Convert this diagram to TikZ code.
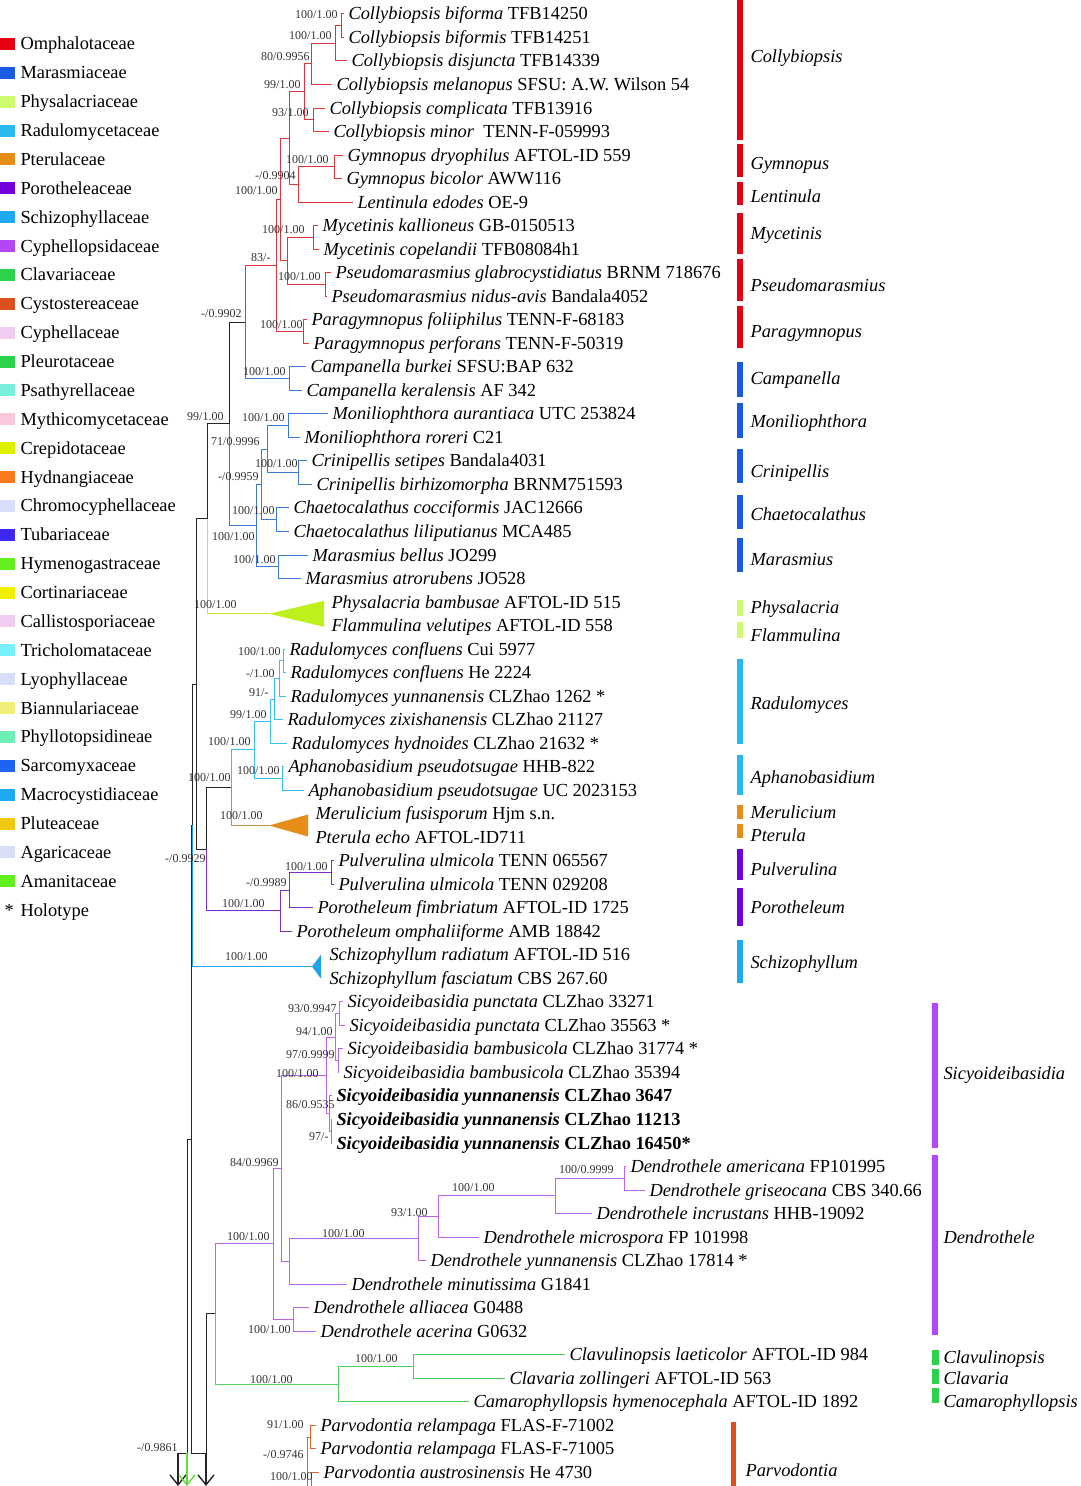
\documentclass[tikz,border=0pt]{standalone}
\usepackage{fontspec}
\setmainfont{Liberation Serif}
\usetikzlibrary{arrows.meta}
%family colours (legend and bars)
\definecolor{cOmph}{RGB}{230,0,18}
\definecolor{cMara}{RGB}{25,90,225}
\definecolor{cPhys}{RGB}{205,250,110}
\definecolor{cRadu}{RGB}{40,185,240}
\definecolor{cPter}{RGB}{230,140,25}
\definecolor{cPoro}{RGB}{115,0,220}
\definecolor{cSchi}{RGB}{30,170,240}
\definecolor{cCyph}{RGB}{180,70,245}
\definecolor{cClav}{RGB}{45,210,75}
\definecolor{cCyst}{RGB}{220,80,30}
\definecolor{cCyphe}{RGB}{240,205,240}
\definecolor{cPleu}{RGB}{45,210,75}
\definecolor{cPsat}{RGB}{120,240,220}
\definecolor{cMyth}{RGB}{250,200,220}
\definecolor{cCrep}{RGB}{220,240,0}
\definecolor{cHydn}{RGB}{250,120,30}
\definecolor{cChro}{RGB}{215,222,250}
\definecolor{cTuba}{RGB}{60,40,240}
\definecolor{cHyme}{RGB}{100,240,30}
\definecolor{cCort}{RGB}{240,240,0}
\definecolor{cCall}{RGB}{240,205,240}
\definecolor{cTric}{RGB}{120,240,250}
\definecolor{cLyop}{RGB}{215,222,250}
\definecolor{cBian}{RGB}{240,240,120}
\definecolor{cPhyl}{RGB}{110,240,180}
\definecolor{cSarc}{RGB}{30,100,240}
\definecolor{cMacr}{RGB}{30,170,240}
\definecolor{cPlut}{RGB}{240,200,20}
\definecolor{cAgar}{RGB}{215,222,245}
\definecolor{cAman}{RGB}{100,240,30}
%branch colours
\definecolor{lOmph}{RGB}{225,50,60}
\definecolor{lMara}{RGB}{60,120,215}
\definecolor{lPhys}{RGB}{190,240,30}
\definecolor{lRadu}{RGB}{60,190,235}
\definecolor{lPter}{RGB}{195,140,70}
\definecolor{lPoro}{RGB}{125,45,205}
\definecolor{lSchi}{RGB}{30,160,235}
\definecolor{lCyph}{RGB}{190,100,235}
\definecolor{lClav}{RGB}{80,210,90}
\definecolor{lCyst}{RGB}{215,100,40}
\definecolor{lHyme}{RGB}{100,220,60}
\tikzset{every picture/.style={line width=0.5pt},
  every node/.style={font=\fontsize{9.2}{11}\selectfont},
  leaf/.style={anchor=west,inner xsep=2pt,inner ysep=0pt,text height=8pt,text depth=2pt},
  bs/.style={anchor=east,inner sep=0pt,text=black!80,font=\fontsize{6}{7}\selectfont},
  genus/.style={anchor=west,inner sep=0pt,text height=8pt,text depth=2pt,font=\fontsize{9.2}{11}\selectfont\itshape},
  legtext/.style={anchor=west,inner sep=0pt,text height=8pt,text depth=2pt},
  trunk/.style={draw=black!85},
  omph/.style={draw=lOmph},
  mara/.style={draw=lMara},
  phys/.style={draw=lPhys},
  radu/.style={draw=lRadu},
  pter/.style={draw=lPter},
  poro/.style={draw=lPoro},
  schi/.style={draw=lSchi},
  cyph/.style={draw=lCyph},
  clav/.style={draw=lClav},
  cyst/.style={draw=lCyst},
  cont/.style={line width=0.7pt,-{Straight Barb[length=5pt,width=8pt]}}
}

\begin{document}
\begin{tikzpicture}[x=0.5pt,y=0.5pt,yscale=-1,xscale=1]
\useasboundingbox (0,0) rectangle (1080,1486);

%Legend
\fill[cOmph] (0,38) rectangle (15,50); \node[legtext] (lg1) at (20,44) {Omphalotaceae};
\fill[cMara] (0,66.9) rectangle (15,78.9); \node[legtext] (lg2) at (20,72.9) {Marasmiaceae};
\fill[cPhys] (0,95.7) rectangle (15,107.7); \node[legtext] (lg3) at (20,101.7) {Physalacriaceae};
\fill[cRadu] (0,124.6) rectangle (15,136.6); \node[legtext] (lg4) at (20,130.6) {Radulomycetaceae};
\fill[cPter] (0,153.5) rectangle (15,165.5); \node[legtext] (lg5) at (20,159.5) {Pterulaceae};
\fill[cPoro] (0,182.4) rectangle (15,194.4); \node[legtext] (lg6) at (20,188.4) {Porotheleaceae};
\fill[cSchi] (0,211.2) rectangle (15,223.2); \node[legtext] (lg7) at (20,217.2) {Schizophyllaceae};
\fill[cCyph] (0,240.1) rectangle (15,252.1); \node[legtext] (lg8) at (20,246.1) {Cyphellopsidaceae};
\fill[cClav] (0,269) rectangle (15,281); \node[legtext] (lg9) at (20,275) {Clavariaceae};
\fill[cCyst] (0,297.8) rectangle (15,309.8); \node[legtext] (lg10) at (20,303.8) {Cystostereaceae};
\fill[cCyphe] (0,326.7) rectangle (15,338.7); \node[legtext] (lg11) at (20,332.7) {Cyphellaceae};
\fill[cPleu] (0,355.6) rectangle (15,367.6); \node[legtext] (lg12) at (20,361.6) {Pleurotaceae};
\fill[cPsat] (0,384.4) rectangle (15,396.4); \node[legtext] (lg13) at (20,390.4) {Psathyrellaceae};
\fill[cMyth] (0,413.3) rectangle (15,425.3); \node[legtext] (lg14) at (20,419.3) {Mythicomycetaceae};
\fill[cCrep] (0,442.2) rectangle (15,454.2); \node[legtext] (lg15) at (20,448.2) {Crepidotaceae};
\fill[cHydn] (0,471.1) rectangle (15,483.1); \node[legtext] (lg16) at (20,477.1) {Hydnangiaceae};
\fill[cChro] (0,499.9) rectangle (15,511.9); \node[legtext] (lg17) at (20,505.9) {Chromocyphellaceae};
\fill[cTuba] (0,528.8) rectangle (15,540.8); \node[legtext] (lg18) at (20,534.8) {Tubariaceae};
\fill[cHyme] (0,557.7) rectangle (15,569.7); \node[legtext] (lg19) at (20,563.7) {Hymenogastraceae};
\fill[cCort] (0,586.5) rectangle (15,598.5); \node[legtext] (lg20) at (20,592.5) {Cortinariaceae};
\fill[cCall] (0,615.4) rectangle (15,627.4); \node[legtext] (lg21) at (20,621.4) {Callistosporiaceae};
\fill[cTric] (0,644.3) rectangle (15,656.3); \node[legtext] (lg22) at (20,650.3) {Tricholomataceae};
\fill[cLyop] (0,673.1) rectangle (15,685.1); \node[legtext] (lg23) at (20,679.1) {Lyophyllaceae};
\fill[cBian] (0,702) rectangle (15,714); \node[legtext] (lg24) at (20,708) {Biannulariaceae};
\fill[cPhyl] (0,730.9) rectangle (15,742.9); \node[legtext] (lg25) at (20,736.9) {Phyllotopsidineae};
\fill[cSarc] (0,759.8) rectangle (15,771.8); \node[legtext] (lg26) at (20,765.8) {Sarcomyxaceae};
\fill[cMacr] (0,788.6) rectangle (15,800.6); \node[legtext] (lg27) at (20,794.6) {Macrocystidiaceae};
\fill[cPlut] (0,817.5) rectangle (15,829.5); \node[legtext] (lg28) at (20,823.5) {Pluteaceae};
\fill[cAgar] (0,846.4) rectangle (15,858.4); \node[legtext] (lg29) at (20,852.4) {Agaricaceae};
\fill[cAman] (0,875.2) rectangle (15,887.2); \node[legtext] (lg30) at (20,881.2) {Amanitaceae};
\node[legtext] (lgstar) at (4,910.1) {*}; \node[legtext] (lg31) at (20,910.1) {Holotype};

%Tip labels
\node[leaf] (t1) at (344,14) {\textit{Collybiopsis biforma} TFB14250};
\node[leaf] (t2) at (344,37.5) {\textit{Collybiopsis biformis} TFB14251};
\node[leaf] (t3) at (347,61) {\textit{Collybiopsis disjuncta} TFB14339};
\node[leaf] (t4) at (332,84.6) {\textit{Collybiopsis melanopus} SFSU: A.W. Wilson 54};
\node[leaf] (t5) at (325,108.1) {\textit{Collybiopsis complicata} TFB13916};
\node[leaf] (t6) at (329,131.6) {\textit{Collybiopsis minor}\ \ TENN-F-059993};
\node[leaf] (t7) at (343,155.1) {\textit{Gymnopus dryophilus} AFTOL-ID 559};
\node[leaf] (t8) at (342,178.6) {\textit{Gymnopus bicolor} AWW116};
\node[leaf] (t9) at (353,202.2) {\textit{Lentinula edodes} OE-9};
\node[leaf] (t10) at (318,225.7) {\textit{Mycetinis kallioneus} GB-0150513};
\node[leaf] (t11) at (319,249.2) {\textit{Mycetinis copelandii} TFB08084h1};
\node[leaf] (t12) at (331,272.7) {\textit{Pseudomarasmius glabrocystidiatus} BRNM 718676};
\node[leaf] (t13) at (327,296.2) {\textit{Pseudomarasmius nidus-avis} Bandala4052};
\node[leaf] (t14) at (307,319.8) {\textit{Paragymnopus foliiphilus} TENN-F-68183};
\node[leaf] (t15) at (309,343.3) {\textit{Paragymnopus perforans} TENN-F-50319};
\node[leaf] (t16) at (306,366.8) {\textit{Campanella burkei} SFSU:BAP 632};
\node[leaf] (t17) at (302,390.3) {\textit{Campanella keralensis} AF 342};
\node[leaf] (t18) at (328,413.8) {\textit{Moniliophthora aurantiaca} UTC 253824};
\node[leaf] (t19) at (300,437.4) {\textit{Moniliophthora roreri} C21};
\node[leaf] (t20) at (307,460.9) {\textit{Crinipellis setipes} Bandala4031};
\node[leaf] (t21) at (312,484.4) {\textit{Crinipellis birhizomorpha} BRNM751593};
\node[leaf] (t22) at (289,507.9) {\textit{Chaetocalathus cocciformis} JAC12666};
\node[leaf] (t23) at (289,531.4) {\textit{Chaetocalathus liliputianus} MCA485};
\node[leaf] (t24) at (308,555) {\textit{Marasmius bellus} JO299};
\node[leaf] (t25) at (301,578.5) {\textit{Marasmius atrorubens} JO528};
\node[leaf] (t26) at (327,602) {\textit{Physalacria bambusae} AFTOL-ID 515};
\node[leaf] (t27) at (327,625.5) {\textit{Flammulina velutipes} AFTOL-ID 558};
\node[leaf] (t28) at (285,649) {\textit{Radulomyces confluens} Cui 5977};
\node[leaf] (t29) at (286,672.6) {\textit{Radulomyces confluens} He 2224};
\node[leaf] (t30) at (286,696.1) {\textit{Radulomyces yunnanensis} CLZhao 1262 *};
\node[leaf] (t31) at (283,719.6) {\textit{Radulomyces zixishanensis} CLZhao 21127};
\node[leaf] (t32) at (287,743.1) {\textit{Radulomyces hydnoides} CLZhao 21632 *};
\node[leaf] (t33) at (284,766.6) {\textit{Aphanobasidium pseudotsugae} HHB-822};
\node[leaf] (t34) at (304,790.2) {\textit{Aphanobasidium pseudotsugae} UC 2023153};
\node[leaf] (t35) at (311,813.7) {\textit{Merulicium fusisporum} Hjm s.n.};
\node[leaf] (t36) at (311,837.2) {\textit{Pterula echo} AFTOL-ID711};
\node[leaf] (t37) at (334,860.7) {\textit{Pulverulina ulmicola} TENN 065567};
\node[leaf] (t38) at (334,884.2) {\textit{Pulverulina ulmicola} TENN 029208};
\node[leaf] (t39) at (313,907.8) {\textit{Porotheleum fimbriatum} AFTOL-ID 1725};
\node[leaf] (t40) at (292,931.3) {\textit{Porotheleum omphaliiforme} AMB 18842};
\node[leaf] (t41) at (325,954.8) {\textit{Schizophyllum radiatum} AFTOL-ID 516};
\node[leaf] (t42) at (325,978.3) {\textit{Schizophyllum fasciatum} CBS 267.60};
\node[leaf] (t43) at (343,1001.8) {\textit{Sicyoideibasidia punctata} CLZhao 33271};
\node[leaf] (t44) at (345,1025.4) {\textit{Sicyoideibasidia punctata} CLZhao 35563 *};
\node[leaf] (t45) at (343,1048.9) {\textit{Sicyoideibasidia bambusicola} CLZhao 31774 *};
\node[leaf] (t46) at (339,1072.4) {\textit{Sicyoideibasidia bambusicola} CLZhao 35394};
\node[leaf] (t47) at (332,1095.9) {\bfseries\textit{Sicyoideibasidia yunnanensis} CLZhao 3647};
\node[leaf] (t48) at (332,1119.4) {\bfseries\textit{Sicyoideibasidia yunnanensis} CLZhao 11213};
\node[leaf] (t49) at (332,1143) {\bfseries\textit{Sicyoideibasidia yunnanensis} CLZhao 16450*};
\node[leaf] (t50) at (626,1166.5) {\textit{Dendrothele americana} FP101995};
\node[leaf] (t51) at (645,1190) {\textit{Dendrothele griseocana} CBS 340.66};
\node[leaf] (t52) at (592,1213.5) {\textit{Dendrothele incrustans} HHB-19092};
\node[leaf] (t53) at (479,1237) {\textit{Dendrothele microspora} FP 101998};
\node[leaf] (t54) at (426,1260.6) {\textit{Dendrothele yunnanensis} CLZhao 17814 *};
\node[leaf] (t55) at (347,1284.1) {\textit{Dendrothele minutissima} G1841};
\node[leaf] (t56) at (309,1307.6) {\textit{Dendrothele alliacea} G0488};
\node[leaf] (t57) at (316,1331.1) {\textit{Dendrothele acerina} G0632};
\node[leaf] (t58) at (565,1354.6) {\textit{Clavulinopsis laeticolor} AFTOL-ID 984};
\node[leaf] (t59) at (505,1378.2) {\textit{Clavaria zollingeri} AFTOL-ID 563};
\node[leaf] (t60) at (469,1401.7) {\textit{Camarophyllopsis hymenocephala} AFTOL-ID 1892};
\node[leaf] (t61) at (316,1425.2) {\textit{Parvodontia relampaga} FLAS-F-71002};
\node[leaf] (t62) at (316,1448.7) {\textit{Parvodontia relampaga} FLAS-F-71005};
\node[leaf] (t63) at (319,1472.2) {\textit{Parvodontia austrosinensis} He 4730};

%Internal nodes
\coordinate (n12) at (341,25.8);
\coordinate (n123) at (335,43.4);
\coordinate (n1234) at (311,64);
\coordinate (n56) at (313,119.9);
\coordinate (nColl) at (304,92);
\coordinate (nGy) at (334,166.9);
\coordinate (nGL) at (298,184.5);
\coordinate (nCGL) at (289,138.3);
\coordinate (nMyc) at (313,237.5);
\coordinate (nPs) at (325,284.5);
\coordinate (nMP) at (287,261);
\coordinate (nX) at (280,199.6);
\coordinate (nPara) at (303,331.6);
\coordinate (nOmph) at (276,265.6);
\coordinate (nCamp) at (289,378.6);
\coordinate (nOC) at (245,322.1);
\coordinate (nMon) at (288,425.6);
\coordinate (nCri) at (298,472.7);
\coordinate (n71) at (267,449.2);
\coordinate (nCha) at (276,519.7);
\coordinate (n59) at (261,484.5);
\coordinate (nMar) at (278,566.8);
\coordinate (nMara) at (256,525.6);
\coordinate (n99) at (229,423.9);
\coordinate (physx) at (269,613.8);
\coordinate (nA) at (207,518.9);
\coordinate (n2829) at (283,660.8);
\coordinate (nR1) at (279,678.5);
\coordinate (nR91) at (274,699);
\coordinate (nR99) at (270,721.1);
\coordinate (nAph) at (282,778.4);
\coordinate (nRA) at (254,749.8);
\coordinate (pterx) at (269,825.5);
\coordinate (nRP) at (231,787.6);
\coordinate (nPul) at (331,872.5);
\coordinate (nP2) at (289,890.2);
\coordinate (nPoro) at (280,910.7);
\coordinate (nB) at (206,849.2);
\coordinate (nC) at (196,684);
\coordinate (schix) at (312,966.6);
\coordinate (nD) at (192,825.3);
\coordinate (nSp) at (339,1013.6);
\coordinate (nSb) at (338,1060.7);
\coordinate (nS94) at (335,1037.1);
\coordinate (nS97) at (331,1131.2);
\coordinate (nS86) at (329,1113.6);
\coordinate (nS100) at (326,1075.3);
\coordinate (nDag) at (624,1178.3);
\coordinate (nDagi) at (555,1195.9);
\coordinate (nD93) at (438,1216.5);
\coordinate (nDy) at (418,1238.5);
\coordinate (nDm) at (289,1261.3);
\coordinate (n84) at (281,1168.3);
\coordinate (nDal) at (293,1319.4);
\coordinate (nD100) at (273,1243.8);
\coordinate (nCl2) at (413,1366.4);
\coordinate (nCl) at (338,1384);
\coordinate (nCC) at (215,1313.9);
\coordinate (nG) at (206,1453);
\coordinate (nF) at (191,1139.2);
\coordinate (nH) at (187,1453);
\coordinate (nI) at (178,1453);
\coordinate (aI) at (178,1486);
\coordinate (aH) at (187,1486);
\coordinate (aG) at (206,1486);
\coordinate (nPr) at (310,1437);
\coordinate (nPv) at (307,1463);
\coordinate (nPa) at (311,1486);

%Omphalotaceae
\draw[omph] (n12) |- (t1.west) (n12) |- (t2.west);
\draw[omph] (n123) |- (n12) (n123) |- (t3.west);
\draw[omph] (n1234) |- (n123) (n1234) |- (t4.west);
\draw[omph] (n56) |- (t5.west) (n56) |- (t6.west);
\draw[omph] (nColl) |- (n1234) (nColl) |- (n56);
\draw[omph] (nGy) |- (t7.west) (nGy) |- (t8.west);
\draw[omph] (nGL) |- (nGy) (nGL) |- (t9.west);
\draw[omph] (nCGL) |- (nColl) (nCGL) |- (nGL);
\draw[omph] (nMyc) |- (t10.west) (nMyc) |- (t11.west);
\draw[omph] (nPs) |- (t12.west) (nPs) |- (t13.west);
\draw[omph] (nMP) |- (nMyc) (nMP) |- (nPs);
\draw[omph] (nX) |- (nCGL) (nX) |- (nMP);
\draw[omph] (nPara) |- (t14.west) (nPara) |- (t15.west);
\draw[omph] (nOmph) |- (nX) (nOmph) |- (nPara);
\draw[omph] (nOC) |- (nOmph);
%Marasmiaceae
\draw[mara] (nCamp) |- (t16.west) (nCamp) |- (t17.west);
\draw[mara] (nOC) |- (nCamp);
\draw[mara] (nMon) |- (t18.west) (nMon) |- (t19.west);
\draw[mara] (nCri) |- (t20.west) (nCri) |- (t21.west);
\draw[mara] (n71) |- (nMon) (n71) |- (nCri);
\draw[mara] (nCha) |- (t22.west) (nCha) |- (t23.west);
\draw[mara] (n59) |- (n71) (n59) |- (nCha);
\draw[mara] (nMar) |- (t24.west) (nMar) |- (t25.west);
\draw[mara] (nMara) |- (n59) (nMara) |- (nMar);
\draw[mara] (n99) |- (nMara);
\draw[trunk] (n99) |- (nOC);
\draw[trunk] (nA) |- (n99);
%Physalacriaceae
\draw[phys] (nA) |- (physx);
\fill[lPhys] (physx) -- ++(55,-13) -- ++(0,26) -- cycle;
%Radulomycetaceae and Pterulaceae
\draw[radu] (n2829) |- (t28.west) (n2829) |- (t29.west);
\draw[radu] (nR1) |- (n2829) (nR1) |- (t30.west);
\draw[radu] (nR91) |- (nR1) (nR91) |- (t31.west);
\draw[radu] (nR99) |- (nR91) (nR99) |- (t32.west);
\draw[radu] (nAph) |- (t33.west) (nAph) |- (t34.west);
\draw[radu] (nRA) |- (nR99) (nRA) |- (nAph);
\draw[radu] (nRP) |- (nRA);
\draw[pter] (nRP) |- (pterx);
\fill[cPter] (pterx) -- ++(39,-11) -- ++(0,22) -- cycle;
%Porotheleaceae
\draw[poro] (nPul) |- (t37.west) (nPul) |- (t38.west);
\draw[poro] (nP2) |- (nPul) (nP2) |- (t39.west);
\draw[poro] (nPoro) |- (nP2) (nPoro) |- (t40.west);
\draw[poro] (nB) |- (nPoro);
\draw[trunk] (nB) |- (nRP);
\draw[trunk] (nC) |- (nA) (nC) |- (nB);
%trunk
\draw[trunk] (nF) |- (nD) (nF) |- (nG);
\draw[trunk] (nD) |- (nC);
\draw[trunk] (nH) |- (nF);
\draw[trunk] (nI) |- (nH);
\draw[trunk] (nG) |- (nCC);
\draw[trunk,cont] (nI) -- (aI);
\draw[trunk,cont] (nG) -- (aG);
\draw[draw=lHyme,cont] (nH) -- (aH);
%Schizophyllaceae
\draw[schi] (nD) |- (schix);
\fill[lSchi] (schix) -- ++(9,-12) -- ++(0,24) -- cycle;
%Cyphellopsidaceae
\draw[cyph] (nSp) |- (t43.west) (nSp) |- (t44.west);
\draw[cyph] (nSb) |- (t45.west) (nSb) |- (t46.west);
\draw[cyph] (nS94) |- (nSp) (nS94) |- (nSb);
\draw[cyph] (nS97) |- (t48.west) (nS97) |- (t49.west);
\draw[cyph] (nS86) |- (t47.west) (nS86) |- (nS97);
\draw[cyph] (nS100) |- (nS94) (nS100) |- (nS86);
\draw[cyph] (nDag) |- (t50.west) (nDag) |- (t51.west);
\draw[cyph] (nDagi) |- (nDag) (nDagi) |- (t52.west);
\draw[cyph] (nD93) |- (nDagi) (nD93) |- (t53.west);
\draw[cyph] (nDy) |- (nD93) (nDy) |- (t54.west);
\draw[cyph] (nDm) |- (nDy) (nDm) |- (t55.west);
\draw[cyph] (n84) |- (nS100) (n84) |- (nDm);
\draw[cyph] (nDal) |- (t56.west) (nDal) |- (t57.west);
\draw[cyph] (nD100) |- (n84) (nD100) |- (nDal);
\draw[cyph] (nCC) |- (nD100);
%Clavariaceae
\draw[clav] (nCl2) |- (t58.west) (nCl2) |- (t59.west);
\draw[clav] (nCl) |- (nCl2) (nCl) |- (t60.west);
\draw[clav] (nCC) |- (nCl);
%Cystostereaceae
\draw[cyst] (nPr) |- (t61.west) (nPr) |- (t62.west);
\draw[cyst] (nPv) |- (nPr) (nPv) |- (nPa);
\draw[cyst] (nPa) |- (t63.west);

%Support values
\node[bs] (s1) at (338,15) {100/1.00};
\node[bs] (s2) at (332,36) {100/1.00};
\node[bs] (s3) at (310,57) {80/0.9956};
\node[bs] (s4) at (301,85) {99/1.00};
\node[bs] (s5) at (309,113) {93/1.00};
\node[bs] (s6) at (329,160) {100/1.00};
\node[bs] (s7) at (296,176) {-/0.9904};
\node[bs] (s8) at (278,191) {100/1.00};
\node[bs] (s9) at (305,230) {100/1.00};
\node[bs] (s10) at (271,258) {83/-};
\node[bs] (s11) at (321,277) {100/1.00};
\node[bs] (s12) at (242,314) {-/0.9902};
\node[bs] (s13) at (303,325) {100/1.00};
\node[bs] (s14) at (286,372) {100/1.00};
\node[bs] (s15) at (224,417) {99/1.00};
\node[bs] (s16) at (285,418) {100/1.00};
\node[bs] (s17) at (260,442) {71/0.9996};
\node[bs] (s18) at (298,464) {100/1.00};
\node[bs] (s19) at (259,477) {-/0.9959};
\node[bs] (s20) at (275,511) {100/1.00};
\node[bs] (s21) at (255,537) {100/1.00};
\node[bs] (s22) at (276,560) {100/1.00};
\node[bs] (s23) at (237,605) {100/1.00};
\node[bs] (s24) at (281,652) {100/1.00};
\node[bs] (s25) at (275,674) {-/1.00};
\node[bs] (s26) at (269,693) {91/-};
\node[bs] (s27) at (267,715) {99/1.00};
\node[bs] (s28) at (251,742) {100/1.00};
\node[bs] (s29) at (280,771) {100/1.00};
\node[bs] (s30) at (231,778) {100/1.00};
\node[bs] (s31) at (263,816) {100/1.00};
\node[bs] (s32) at (206,859) {-/0.9929};
\node[bs] (s33) at (328,867) {100/1.00};
\node[bs] (s34) at (287,883) {-/0.9989};
\node[bs] (s35) at (265,904) {100/1.00};
\node[bs] (s36) at (268,957) {100/1.00};
\node[bs] (s37) at (337,1009) {93/0.9947};
\node[bs] (s38) at (333,1032) {94/1.00};
\node[bs] (s39) at (335,1055) {97/0.9999};
\node[bs] (s40) at (319,1074) {100/1.00};
\node[bs] (s41) at (335,1105) {86/0.9535};
\node[bs] (s42) at (329,1137) {97/-};
\node[bs] (s43) at (279,1163) {84/0.9969};
\node[bs] (s44) at (614,1170) {100/0.9999};
\node[bs] (s45) at (495,1188) {100/1.00};
\node[bs] (s46) at (428,1213) {93/1.00};
\node[bs] (s47) at (365,1234) {100/1.00};
\node[bs] (s48) at (270,1237) {100/1.00};
\node[bs] (s49) at (291,1330) {100/1.00};
\node[bs] (s50) at (398,1359) {100/1.00};
\node[bs] (s51) at (293,1380) {100/1.00};
\node[bs] (s52) at (304,1425) {91/1.00};
\node[bs] (s53) at (304,1455) {-/0.9746};
\node[bs] (s54) at (313,1477) {100/1.00};
\node[bs] (s55) at (178,1448) {-/0.9861};

%Genus bars
\fill[cOmph] (737,0) rectangle (743,140); \node[genus] (g1) at (750,57) {Collybiopsis};
\fill[cOmph] (737,144) rectangle (743,177); \node[genus] (g2) at (750,164) {Gymnopus};
\fill[cOmph] (737,182) rectangle (743,205); \node[genus] (g3) at (750,197) {Lentinula};
\fill[cOmph] (737,213) rectangle (743,254); \node[genus] (g4) at (750,234) {Mycetinis};
\fill[cOmph] (737,259) rectangle (743,301); \node[genus] (g5) at (750,286) {Pseudomarasmius};
\fill[cOmph] (737,306) rectangle (743,348); \node[genus] (g6) at (750,332) {Paragymnopus};
\fill[cMara] (737,362) rectangle (743,397); \node[genus] (g7) at (750,379) {Campanella};
\fill[cMara] (737,403) rectangle (743,438); \node[genus] (g8) at (750,422) {Moniliophthora};
\fill[cMara] (737,449) rectangle (743,483); \node[genus] (g9) at (750,471) {Crinipellis};
\fill[cMara] (737,495) rectangle (743,529); \node[genus] (g10) at (750,514) {Chaetocalathus};
\fill[cMara] (737,538) rectangle (743,572); \node[genus] (g11) at (750,559) {Marasmius};
\fill[cPhys] (737,600) rectangle (743,616); \node[genus] (g12) at (750,607) {Physalacria};
\fill[cPhys] (737,622) rectangle (743,638); \node[genus] (g13) at (750,635) {Flammulina};
\fill[cRadu] (737,659) rectangle (743,744); \node[genus] (g14) at (750,703) {Radulomyces};
\fill[cRadu] (737,755) rectangle (743,795); \node[genus] (g15) at (750,777) {Aphanobasidium};
\fill[cPter] (737,805) rectangle (743,819); \node[genus] (g16) at (750,812) {Merulicium};
\fill[cPter] (737,824) rectangle (743,838); \node[genus] (g17) at (750,835) {Pterula};
\fill[cPoro] (737,849) rectangle (743,880); \node[genus] (g18) at (750,869) {Pulverulina};
\fill[cPoro] (737,888) rectangle (743,926); \node[genus] (g19) at (750,907) {Porotheleum};
\fill[cSchi] (737,940) rectangle (743,983); \node[genus] (g20) at (750,962) {Schizophyllum};
\fill[cCyph] (932,1003) rectangle (938,1148); \node[genus] (g21) at (943,1073) {Sicyoideibasidia};
\fill[cCyph] (932,1155) rectangle (938,1335); \node[genus] (g22) at (943,1237) {Dendrothele};
\fill[cClav] (932,1350) rectangle (939,1365); \node[genus] (g23) at (943,1357) {Clavulinopsis};
\fill[cClav] (932,1369) rectangle (939,1384); \node[genus] (g24) at (943,1378) {Clavaria};
\fill[cClav] (932,1388) rectangle (939,1403); \node[genus] (g25) at (943,1401) {Camarophyllopsis};
\fill[cCyst] (731,1422) rectangle (736,1486); \node[genus] (g26) at (745,1470) {Parvodontia};

\end{tikzpicture}
\end{document}
